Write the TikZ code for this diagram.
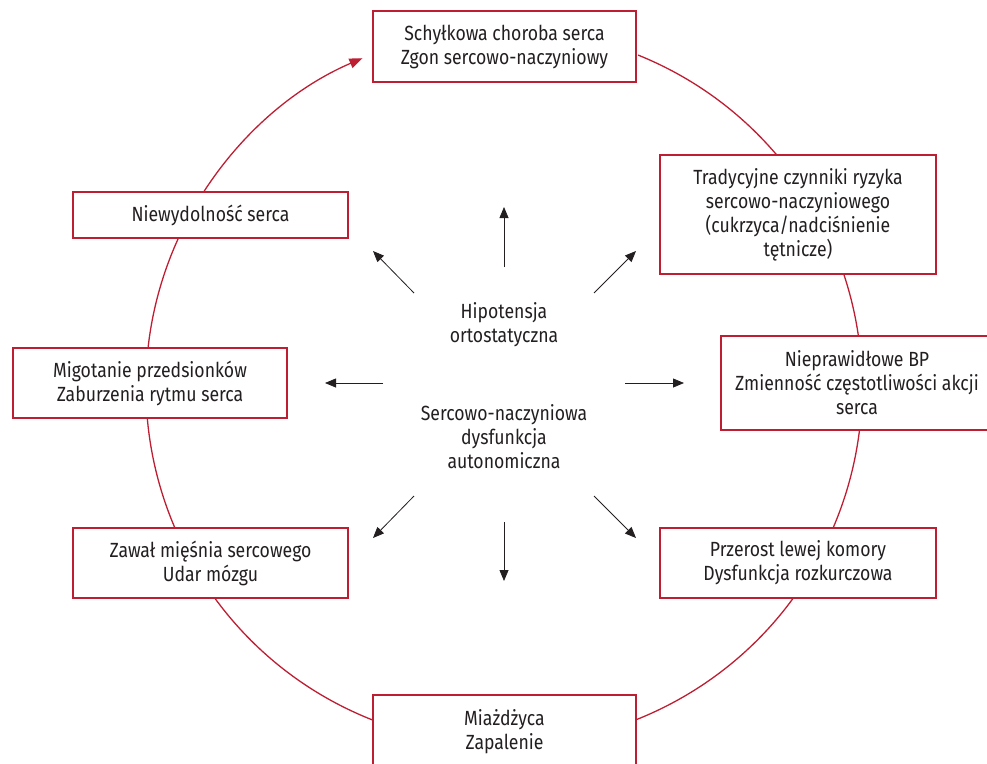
\documentclass[tikz,border=0pt]{standalone}
\usepackage{fontspec}
\setmainfont{Fira Sans}[FakeStretch=0.86]
\usetikzlibrary{arrows.meta}
\definecolor{cred}{RGB}{190,30,50}
\definecolor{ctext}{RGB}{35,31,32}
\begin{document}
\begin{tikzpicture}[x=1pt,y=-1pt,
  box/.style={draw=cred, line width=1.3pt, fill=white, align=center, text=ctext,
    inner sep=0pt, font=\fontsize{20.5}{24}\selectfont},
  ctr/.style={align=center, text=ctext, inner sep=0pt, font=\fontsize{20.5}{24}\selectfont},
  arr/.style={-{Triangle[length=11pt,width=9pt]}, line width=0.8pt, draw=ctext},
  cyc/.style={draw=cred, line width=1.3pt, -{Triangle[length=13pt,width=10pt]}}]
\useasboundingbox (0,0) rectangle (987,763);
% cycle
\coordinate (c) at (504,387);
\draw[cyc] (c) ++(-68:358) arc[start angle=-68, end angle=246.7, radius=358];
% boxes
\node[box, minimum width=263pt, minimum height=71pt] (top) at (504.5,46.5) {Schyłkowa choroba serca\\Zgon sercowo-naczyniowy};
\node[box, minimum width=276pt, minimum height=119pt] (trad) at (798,214.5) {Tradycyjne czynniki ryzyka\\sercowo-naczyniowego\\(cukrzyca/nadciśnienie\\tętnicze)};
\node[box, minimum width=272pt, minimum height=94pt] (bp) at (857,383) {Nieprawidłowe BP\\Zmienność częstotliwości akcji\\serca};
\node[box, minimum width=276pt, minimum height=70pt] (lvh) at (798,563) {Przerost lewej komory\\Dysfunkcja rozkurczowa};
\node[box, minimum width=263pt, minimum height=74pt] (ath) at (504.5,732) {Miażdżyca\\Zapalenie};
\node[box, minimum width=275pt, minimum height=70pt] (mi) at (210.5,563) {Zawał mięśnia sercowego\\Udar mózgu};
\node[box, minimum width=274pt, minimum height=70pt] (af) at (150,383) {Migotanie przedsionków\\Zaburzenia rytmu serca};
\node[box, minimum width=275pt, minimum height=46pt] (hf) at (210.5,215) {Niewydolność serca};
% centre
\node[ctr] (oh) at (504,325) {Hipotensja\\ortostatyczna};
\node[ctr] (cad) at (504,437) {Sercowo-naczyniowa\\dysfunkcja\\autonomiczna};
% arrows
\coordinate (nS) at (504,267);   \coordinate (nE) at (504,207);
\coordinate (neS) at (594,293);  \coordinate (neE) at (636,251);
\coordinate (nwS) at (414,293);  \coordinate (nwE) at (373,251);
\coordinate (wS) at (383,383);   \coordinate (wE) at (325,383);
\coordinate (eS) at (625,383);   \coordinate (eE) at (684,383);
\coordinate (swS) at (414,496);  \coordinate (swE) at (373,538);
\coordinate (sS) at (504,522);   \coordinate (sE) at (504,581);
\coordinate (seS) at (594,496);  \coordinate (seE) at (636,538);
\draw[arr] (nS) -- (nE);
\draw[arr] (neS) -- (neE);
\draw[arr] (nwS) -- (nwE);
\draw[arr] (wS) -- (wE);
\draw[arr] (eS) -- (eE);
\draw[arr] (swS) -- (swE);
\draw[arr] (sS) -- (sE);
\draw[arr] (seS) -- (seE);
\end{tikzpicture}
\end{document}
